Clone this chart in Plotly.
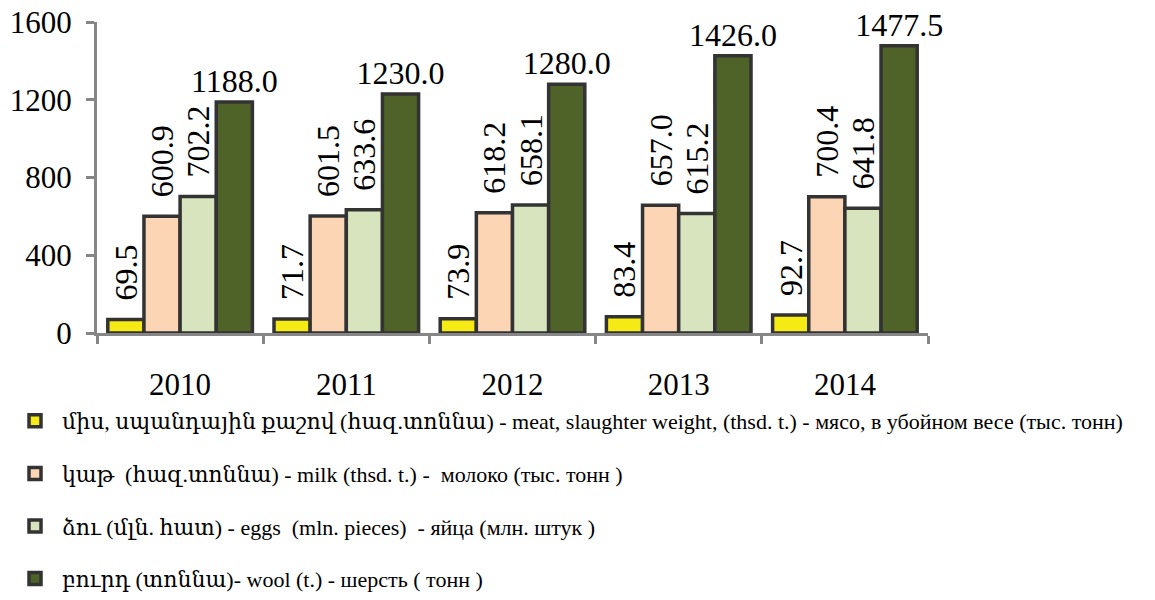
import plotly.graph_objects as go

years = ["2010", "2011", "2012", "2013", "2014"]
meat = [69.5, 71.7, 73.9, 83.4, 92.7]
milk = [600.9, 601.5, 618.2, 657.0, 700.4]
eggs = [702.2, 633.6, 658.1, 615.2, 641.8]
wool = [1188.0, 1230.0, 1280.0, 1426.0, 1477.5]

names = [
    "միս, սպանդային քաշով (հազ.տոննա) - meat, slaughter weight, (thsd. t.) - мясо, в убойном весе (тыс. тонн)",
    "կաթ  (հազ.տոննա) - milk (thsd. t.) -  молоко (тыс. тонн )",
    "ձու (մլն. հատ) - eggs  (mln. pieces)  - яйца (млн. штук )",
    "բուրդ (տոննա)- wool (t.) - шерсть ( тонн )",
]
series = [meat, milk, eggs, wool]
colors = ["#F5EA14", "#FCD5B5", "#D7E4BD", "#4F6228"]
angles = [-90, -90, -90, 0]

FONT = "Liberation Serif, DejaVu Serif, serif"
NB = "\u00a0"

fig = go.Figure()
for i, (nm, vals, col, ang) in enumerate(zip(names, series, colors, angles)):
    pad = NB * 2 if ang != 0 else ""
    fig.add_trace(go.Bar(
        x=years, y=vals, name=nm,
        legendgroup=f"g{i}",
        marker=dict(color=col, line=dict(color="#333333", width=3.5)),
        text=[f"{pad}{v:.1f}" for v in vals],
        textposition="outside",
        textangle=ang,
        constraintext="none",
        cliponaxis=False,
        textfont=dict(family=FONT, size=32, color="black"),
    ))

fig.update_layout(
    width=1155, height=600,
    margin=dict(l=89, r=235, t=14, b=275, autoexpand=False),
    plot_bgcolor="white", paper_bgcolor="white",
    barmode="group", bargap=0.13, bargroupgap=0,
    font=dict(family=FONT, size=22, color="black"),
    showlegend=True,
    legend=dict(
        orientation="v", xref="container", yref="container",
        x=0, xanchor="left", y=0.3467, yanchor="top",
        font=dict(family=FONT, size=22, color="black"),
        tracegroupgap=21, itemwidth=44,
        bgcolor="rgba(0,0,0,0)",
    ),
)
fig.update_xaxes(
    automargin=False, ticklabeloverflow="allow",
    showline=True, linecolor="#868686", linewidth=3,
    ticks="outside", tickson="boundaries", ticklen=8, tickwidth=3, tickcolor="#868686",
    ticklabelstandoff=22,
    tickfont=dict(family=FONT, size=31, color="black"),
    showgrid=False, zeroline=False,
)
fig.update_yaxes(
    automargin=False, ticklabeloverflow="allow",
    range=[0, 1600], tickvals=[0, 400, 800, 1200, 1600],
    showline=True, linecolor="#868686", linewidth=3,
    ticks="outside", ticklen=8, tickwidth=3, tickcolor="#868686",
    ticklabelstandoff=8,
    tickfont=dict(family=FONT, size=31, color="black"),
    showgrid=False, zeroline=False,
)

fig.write_html("out.html")
